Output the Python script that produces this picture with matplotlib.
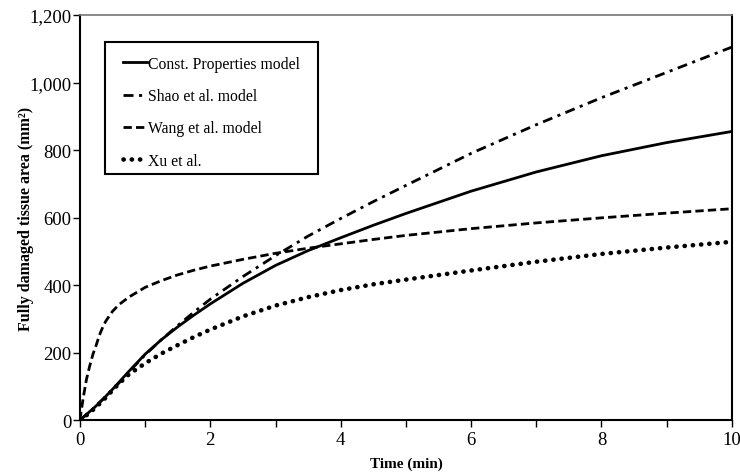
import matplotlib
matplotlib.use("Agg")
import matplotlib.pyplot as plt
from matplotlib.patches import Rectangle
from matplotlib.ticker import FuncFormatter, MultipleLocator

plt.rcParams['font.family'] = ['Liberation Serif', 'DejaVu Serif']

# Time axis (min) and damaged area (mm^2) for each model
time = [0, 0.05, 0.1, 0.15, 0.2, 0.25, 0.3, 0.35, 0.4, 0.5, 0.6, 0.75, 1, 1.25, 1.5, 1.75,
        2, 2.5, 3, 3.5, 4, 4.5, 5, 6, 7, 8, 9, 10]
const_props = [0, 8, 16, 25, 33, 42, 52, 61, 71, 91, 112, 144, 195, 238, 276, 311,
               344, 405, 458, 502, 540, 577, 612, 678, 735, 783, 822, 855]
shao = [0, 8, 16, 25, 33, 42, 52, 61, 71, 90, 110, 142, 193, 238, 280, 320,
        358, 425, 487, 545, 597, 647, 695, 790, 875, 955, 1030, 1105]
wang = [0, 65, 120, 160, 195, 222, 252, 275, 294, 322, 342, 364, 393, 413, 430, 444,
        456, 476, 494, 509, 522, 535, 547, 567, 584, 599, 613, 626]
xu = [0, 7, 14, 22, 30, 39, 48, 57, 67, 88, 108, 135, 168, 197, 222, 246,
      268, 307, 339, 364, 385, 402, 416, 443, 469, 492, 511, 528]

fig = plt.figure(figsize=(7.4, 4.77), dpi=100)
ax = fig.add_axes([0.108, 0.1174, 0.881, 0.849])

ax.plot(time, const_props, color='black', lw=2.0, linestyle='-', label='Const. Properties model')
ax.plot(time, shao, color='black', lw=2.0, linestyle=(0, (3.6, 2.0, 1.1, 2.0)), label='Shao et al. model')
ax.plot(time, wang, color='black', lw=2.0, linestyle=(0, (3.0, 1.5)), label='Wang et al. model')
ax.plot(time, xu, color='black', lw=3.3, linestyle=(0, (0.05, 1.75)),
        dash_capstyle='round', label='Xu et al.')

ax.set_xlim(0, 10)
ax.set_ylim(0, 1200)
ax.xaxis.set_major_locator(MultipleLocator(2))
ax.xaxis.set_minor_locator(MultipleLocator(1))
ax.yaxis.set_major_locator(MultipleLocator(200))
ax.yaxis.set_major_formatter(FuncFormatter(lambda v, p: f"{int(v):,}"))

ax.tick_params(axis='both', which='both', direction='out', length=5, width=1, labelsize=13.5)
ax.tick_params(axis='x', pad=3)
ax.tick_params(axis='y', pad=1)
for side in ['left', 'bottom', 'right']:
    ax.spines[side].set_linewidth(1.5)
ax.spines['top'].set_color('#777777')
ax.spines['top'].set_linewidth(1.2)

ax.set_xlabel('Time (min)', fontsize=11, fontweight='bold', labelpad=6)
ax.set_ylabel('Fully damaged tissue area (mm²)', fontsize=11.5, fontweight='bold')
ax.yaxis.set_label_coords(-0.071, 0.5)

# legend entries without their own frame; the box is drawn separately
leg = ax.legend(loc='upper left', bbox_to_anchor=(0.066, 0.9), fontsize=11.3,
                handlelength=1.55, handletextpad=0.05, labelspacing=1.05,
                borderpad=0, borderaxespad=0, frameon=False)
ax.add_patch(Rectangle((0.038, 0.607), 0.327, 0.326, transform=ax.transAxes,
                       facecolor='white', edgecolor='black', lw=1.5, zorder=4))
leg.set_zorder(5)

plt.savefig('out.png', dpi=100)
